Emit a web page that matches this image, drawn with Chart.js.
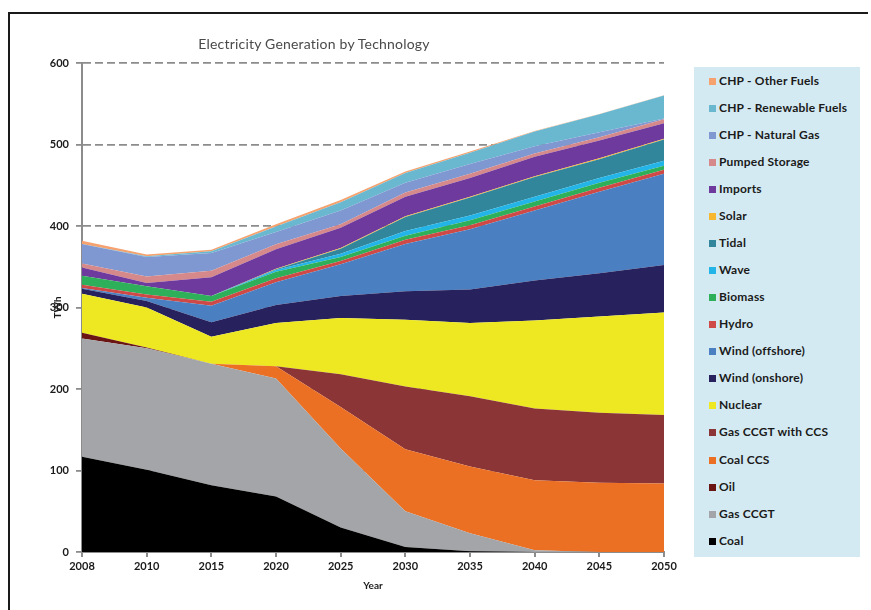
<!DOCTYPE html>
<html>
<head>
<meta charset="utf-8">
<title>Electricity Generation by Technology</title>
<script src="https://cdn.jsdelivr.net/npm/chart.js"></script>
<style>
    body { margin: 0; background: #fff; font-family: Lato, sans-serif; }
    #wrap { position: relative; width: 871px; height: 610px; overflow: hidden; }
    #frame { position: absolute; left: 8px; top: 12px; width: 858px; height: 620px; border-left: 2px solid #1a1a1a; border-top: 2px solid #1a1a1a; }
    #title { position: absolute; top: 35px; left: 114px; width: 400px; text-align: center; font-size: 14px; letter-spacing: 0.2px; color: #4a4a4a; }
    #legend { position: absolute; left: 694px; top: 67px; width: 166px; height: 490px; background: #d4eaf3; }
    .item { position: absolute; left: 15px; font-size: 12px; font-weight: bold; color: #1a1a1a; line-height: 12px; white-space: nowrap; letter-spacing: 0.2px; }
    .item span { display: inline-block; width: 7px; height: 7px; margin-right: 3px; }
    canvas { position: absolute; left: 0; top: 0; }
</style>
</head>
<body>
<div id="wrap">
    <div id="frame"></div>
    <canvas id="myChart" width="871" height="610"></canvas>
    <div id="title">Electricity Generation by Technology</div>
    <div id="legend"></div>
</div>
<script>
    // data (TWh per year)
    var years = ['2008', '2010', '2015', '2020', '2025', '2030', '2035', '2040', '2045', '2050'];
    var coal = [117, 101, 82, 68, 30, 6, 1, 0, 0, 0];
    var gasCcgt = [145, 149, 149, 145, 97, 44, 22, 2, 0, 0];
    var oil = [7, 1, 0, 0, 0, 0, 0, 0, 0, 0];
    var coalCcs = [0, 0, 0, 15, 51, 76, 82, 86, 85, 84];
    var gasCcs = [0, 0, 0, 0, 40, 77, 86, 88, 86, 84];
    var nuclear = [48, 49, 33, 53, 69, 82, 90, 108, 118, 126];
    var windOnshore = [6, 8, 18, 22, 27, 35, 41, 49, 53, 58];
    var windOffshore = [1, 4, 20, 28, 39, 58, 74, 86, 100, 112];
    var hydro = [4, 4, 5, 5, 4, 5, 5, 5, 5, 5];
    var biomass = [11, 10, 7, 8, 5, 5, 6, 6, 6, 5];
    var wave = [0, 0, 0, 2, 4, 6, 6, 6, 6, 6];
    var tidal = [0, 0, 0, 1, 6, 17, 22, 24, 23, 26];
    var solar = [0, 0, 0, 0.5, 1, 1, 1, 1, 1, 1];
    var imports = [10, 4, 23, 24, 25, 24, 23, 24, 22, 19];
    var pumped = [5, 8, 8, 6, 4, 5, 5, 4, 4, 5];
    var chpGas = [24, 24, 22, 15, 17, 12, 12, 9, 6, 1];
    var chpRenew = [0, 1, 2, 7, 10, 12, 14, 18, 22, 28];
    var chpOther = [4, 2, 2, 2.5, 3, 2, 1.5, 0.5, 0.5, 0.5];

    // bottom to top
    var names = ['Coal', 'Gas CCGT', 'Oil', 'Coal CCS', 'Gas CCGT with CCS', 'Nuclear', 'Wind (onshore)',
        'Wind (offshore)', 'Hydro', 'Biomass', 'Wave', 'Tidal', 'Solar', 'Imports', 'Pumped Storage',
        'CHP - Natural Gas', 'CHP - Renewable Fuels', 'CHP - Other Fuels'];
    var values = [coal, gasCcgt, oil, coalCcs, gasCcs, nuclear, windOnshore, windOffshore, hydro, biomass,
        wave, tidal, solar, imports, pumped, chpGas, chpRenew, chpOther];
    var colors = ['#000000', '#a3a5a8', '#6a1414', '#ec7024', '#8b3536', '#ede821', '#27225e', '#4a7fc1',
        '#cf4a47', '#2eb05a', '#23b4e8', '#31869c', '#f7b731', '#6f3a9e', '#d6898a', '#7f98d1', '#69b8cf', '#f5a26f'];

    var datasets = [];
    for (var i = 0; i < names.length; i++) {
        datasets.push({
            label: names[i],
            data: values[i],
            backgroundColor: colors[i],
            borderColor: colors[i],
            borderWidth: 0,
            pointRadius: 0,
            tension: 0,
            fill: i == 0 ? 'origin' : '-1'
        });
    }

    var tickFont = { family: 'Lato', size: 11, weight: 'bold' };
    var axisGrey = '#8c8c8c';

    new Chart(document.getElementById('myChart').getContext('2d'), {
        type: 'line',
        data: { labels: years, datasets: datasets },
        options: {
            responsive: false,
            animation: false,
            layout: { padding: { left: 0, top: 63, right: 207, bottom: 0 } },
            plugins: { legend: { display: false }, tooltip: { enabled: false } },
            scales: {
                x: {
                    grid: { drawOnChartArea: false, tickLength: 5, color: axisGrey, lineWidth: 2 },
                    border: { color: axisGrey, width: 2 },
                    ticks: { color: '#1a1a1a', font: tickFont, padding: 3, maxRotation: 0, autoSkip: false },
                    title: { display: true, text: 'Year', color: '#1a1a1a', font: { family: 'Lato', size: 10, weight: 'bold' }, padding: { top: 0, bottom: 18 } },
                    afterFit: function (s) { s.height = 58; }
                },
                y: {
                    stacked: true,
                    min: 0,
                    max: 600,
                    grid: { color: axisGrey, lineWidth: 1.8, tickLength: 6, tickColor: axisGrey, tickBorderDash: [] },
                    border: { color: axisGrey, width: 2, dash: [8, 4] },
                    ticks: { stepSize: 100, color: '#1a1a1a', font: tickFont, padding: 7 },
                    title: { display: true, text: 'TWh', color: '#1a1a1a', font: { family: 'Lato', size: 10, weight: 'bold' }, padding: { top: 52, bottom: 0 } },
                    afterFit: function (s) { s.width = 82; }
                }
            }
        }
    });

    // legend, top item is the last series
    var legend = document.getElementById('legend');
    for (var j = names.length - 1, k = 0; j >= 0; j--, k++) {
        var item = document.createElement('div');
        item.className = 'item';
        item.style.top = (7.7 + k * 27.06) + 'px';
        var sw = document.createElement('span');
        sw.style.background = colors[j];
        item.appendChild(sw);
        item.appendChild(document.createTextNode(names[j]));
        legend.appendChild(item);
    }
</script>
</body>
</html>
